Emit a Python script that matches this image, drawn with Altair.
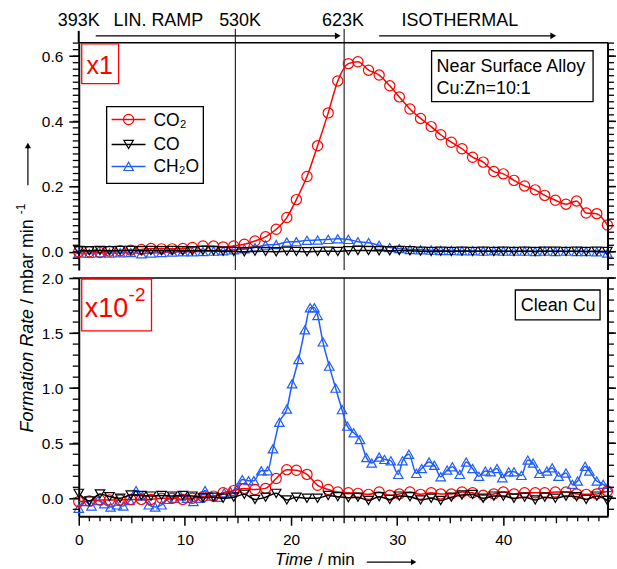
import altair as alt
import pandas as pd

FONT = "Liberation Sans"
RED = "#ff0000"
BLUE = "#1f5cff"
BLACK = "#000000"

# ---------------- data ----------------
t_main = [0.0, 1.0, 2.0, 2.9, 3.9, 4.9, 5.9, 6.8, 7.8, 8.8, 9.8, 10.7, 11.7, 12.7, 13.6,
          14.6, 15.6, 16.6, 17.6, 18.6, 19.6, 20.5, 21.5, 22.5, 23.5, 24.4, 25.4, 26.3,
          27.3, 28.3, 29.3, 30.2, 31.2, 32.2, 33.2, 34.1, 35.1, 36.1, 37.1, 38.1, 39.1,
          40.0, 41.0, 42.0, 43.0, 43.9, 44.9, 45.9, 46.9, 47.8, 48.8, 49.8]

co2_top = [0.000, 0.000, -0.002, 0.002, 0.003, 0.005, 0.007, 0.010, 0.009, 0.009, 0.010,
           0.013, 0.018, 0.018, 0.015, 0.018, 0.023, 0.033, 0.046, 0.069, 0.105, 0.160,
           0.231, 0.325, 0.426, 0.524, 0.577, 0.583, 0.557, 0.542, 0.509, 0.475, 0.438,
           0.409, 0.384, 0.359, 0.336, 0.316, 0.290, 0.275, 0.246, 0.239, 0.219, 0.202,
           0.190, 0.173, 0.158, 0.146, 0.156, 0.119, 0.117, 0.082]
co_top = [0.004, 0.003, 0.004, 0.003, 0.004, 0.004, 0.003, 0.004, 0.003, 0.004, 0.003,
          0.003, 0.004, 0.003, 0.002, 0.001, 0.000, 0.002, 0.001, 0.000, 0.002, 0.001,
          0.000, 0.001, 0.002, 0.001, 0.003, 0.004, 0.004, 0.003, 0.003, 0.004, 0.003,
          0.002, 0.001, 0.002, 0.001, 0.002, 0.001, 0.002, 0.001, 0.002, 0.001, 0.002,
          0.001, 0.002, 0.002, 0.001, 0.002, 0.001, 0.002, 0.001]
ch2o_top = [-0.004, -0.005, -0.003, -0.004, -0.003, -0.002, -0.006, -0.004, -0.002, -0.001,
            0.000, 0.000, 0.001, 0.002, 0.003, 0.006, 0.009, 0.013, 0.021, 0.022, 0.030,
            0.031, 0.035, 0.036, 0.038, 0.040, 0.038, 0.031, 0.028, 0.020, 0.013, 0.010,
            0.007, 0.006, 0.005, 0.004, 0.004, 0.003, 0.003, 0.002, 0.003, 0.002, 0.002,
            0.002, 0.001, 0.002, 0.001, 0.002, 0.001, 0.001, 0.000, -0.004]

co2_bot = [-0.03, -0.024, -0.015, -0.015, -0.015, -0.01, -0.01, -0.01, 0.0, 0.0, -0.01, 0.0,
           0.015, 0.02, 0.05, 0.07, 0.09, 0.08, 0.09, 0.18, 0.26, 0.255, 0.217, 0.118, 0.08,
           0.057, 0.05, 0.045, 0.036, 0.057, 0.027, 0.04, 0.057, 0.036, 0.05, 0.04, 0.04,
           0.057, 0.05, 0.027, 0.04, 0.057, 0.04, 0.05, 0.05, 0.05, 0.057, 0.057, 0.04,
           0.036, 0.04, 0.065]
co_bot = [0.045, -0.024, 0.04, 0.015, 0.0, 0.03, 0.025, 0.02, 0.025, 0.02, 0.025, 0.02, 0.006,
          0.01, 0.0, 0.01, 0.036, -0.01, 0.01, 0.045, -0.015, 0.01, 0.0, 0.0, 0.025, 0.015,
          0.005, 0.01, -0.02, 0.015, -0.01, 0.02, 0.015, -0.015, 0.0, -0.02, 0.01, 0.03,
          0.035, 0.0, 0.02, 0.02, 0.0, 0.01, -0.015, 0.01, 0.0, 0.02, 0.015, -0.01, 0.02,
          -0.02]

t_ch2o_bot = [0.0, 0.6, 1.2, 1.8, 2.4, 3.0, 3.6, 4.2, 4.8, 5.4, 6.0, 6.6, 7.2, 7.8, 8.4, 9.0,
              9.6, 10.2, 10.8, 11.4, 11.9, 12.5, 13.1, 13.7, 14.3, 14.9, 15.4, 16.0, 16.5,
              17.2, 17.8, 18.3, 18.9, 19.6, 20.1, 20.7, 21.3, 21.8, 22.2, 22.5, 23.0, 23.6,
              24.2, 24.8, 25.3, 25.9, 26.5, 27.1, 27.6, 28.3, 28.8, 29.4, 30.1, 30.5, 31.1,
              31.8, 32.3, 33.0, 33.5, 34.1, 34.7, 35.2, 35.9, 36.5, 37.1, 37.7, 38.3, 38.8,
              39.4, 39.9, 40.5, 41.0, 41.7, 42.3, 42.8, 43.4, 44.1, 44.6, 45.2, 45.9, 46.5,
              47.0, 47.7, 48.1, 48.8, 49.4, 49.8]
ch2o_bot = [-0.09, -0.03, -0.07, -0.02, -0.05, -0.08, -0.06, -0.07, -0.02, 0.07, 0.02, -0.06,
            -0.08, -0.06, -0.01, 0.0, 0.02, 0.0, -0.03, 0.0, 0.07, 0.02, 0.01, 0.05, 0.06,
            0.09, 0.17, 0.16, 0.16, 0.25, 0.25, 0.45, 0.69, 0.81, 1.04, 1.26, 1.53, 1.73,
            1.73, 1.66, 1.42, 1.20, 1.00, 0.805, 0.655, 0.595, 0.534, 0.37, 0.32, 0.375,
            0.353, 0.34, 0.217, 0.34, 0.40, 0.226, 0.27, 0.33, 0.30, 0.196, 0.256, 0.287,
            0.217, 0.33, 0.27, 0.20, 0.247, 0.24, 0.27, 0.187, 0.24, 0.24, 0.208, 0.347,
            0.32, 0.226, 0.247, 0.277, 0.20, 0.23, 0.127, 0.157, 0.29, 0.247, 0.157, 0.127,
            0.097]

ramp_lines = [14.75, 25.0]
ann_text = ["393K", "LIN. RAMP", "530K", "623K", "ISOTHERMAL"]
ann_t = [0.0, 7.5, 15.2, 24.9, 35.9]
arrow_start = [1.6, 28.3]
arrow_end = [24.4, 44.7]

TOP_TICKS = [0.0, 0.2, 0.4, 0.6]
BOT_TICKS = [0.0, 0.5, 1.0, 1.5, 2.0]
X_TICKS = [0, 10, 20, 30, 40]
top_minor = [round(-0.04 + 0.02 * i, 2) for i in range(35)]
bot_minor = [round(-0.1 + 0.1 * i, 1) for i in range(22)]
x_minor = [i for i in range(1, 50) if i % 5 != 0]
x_mid = [5, 15, 25, 35, 45]

# ---------------- layout constants ----------------
W, H1, H2 = 531, 228, 239
CIRC, TRI = 105, 90
xs = alt.Scale(domain=[0, 49.86], nice=False, zero=False)
y1s = alt.Scale(domain=[-0.056, 0.641], nice=False, zero=False)
y2s = alt.Scale(domain=[-0.163, 2.0], nice=False, zero=False)
one = pd.DataFrame({"k": [0]})


def y_axis(values):
    return alt.Axis(orient="left", values=values, format=".1f", tickSize=10, tickWidth=1.5,
                    tickColor=BLACK, domainColor=BLACK, domainWidth=2, labelFont=FONT,
                    labelFontSize=15.5, labelColor=BLACK, labelPadding=6, grid=False,
                    title=None, labelFlush=False, labelOverlap=False)


Y1_AXIS = y_axis(TOP_TICKS)
Y2_AXIS = y_axis(BOT_TICKS)
X_AXIS = alt.Axis(orient="bottom", values=X_TICKS, format="d", tickSize=9, tickWidth=1.5,
                  tickColor=BLACK, domainColor=BLACK, domainWidth=2, labelFont=FONT,
                  labelFontSize=15.5, labelColor=BLACK, labelPadding=7, grid=False,
                  title=None, labelFlush=False, labelOverlap=False)


def px_rule(x, y, x2=None, y2=None, width=1.0, color=BLACK):
    enc = dict(x=alt.value(x), y=alt.value(y))
    if x2 is not None:
        enc["x2"] = alt.value(x2)
    if y2 is not None:
        enc["y2"] = alt.value(y2)
    return alt.Chart(one).mark_rule(color=color, strokeWidth=width).encode(**enc)


def px_text(txt, x, y, size, color=BLACK, align="left", baseline="alphabetic",
            style="normal", angle=0):
    return alt.Chart(one).mark_text(
        text=txt, font=FONT, fontSize=size, color=color, align=align,
        baseline=baseline, fontStyle=style, angle=angle
    ).encode(x=alt.value(x), y=alt.value(y))


def px_box(x, x2, y, y2, color=BLACK, width=1.2):
    return alt.Chart(one).mark_rect(
        fill="white", fillOpacity=0, stroke=color, strokeWidth=width
    ).encode(x=alt.value(x), x2=alt.value(x2), y=alt.value(y), y2=alt.value(y2))


def px_point(x, y, shape, color, size, filled=False, width=1.2):
    return alt.Chart(one).mark_point(
        shape=shape, color=color, size=size, filled=filled, opacity=1,
        strokeWidth=width
    ).encode(x=alt.value(x), y=alt.value(y))


def series(t, v, ys, yaxis, xaxis, color, shape, size):
    df = pd.DataFrame({"t": t, "v": v})
    enc = dict(x=alt.X("t:Q", scale=xs, axis=xaxis), y=alt.Y("v:Q", scale=ys, axis=yaxis))
    ln = alt.Chart(df).mark_line(color=color, strokeWidth=1.5,
                                 interpolate="monotone").encode(**enc)
    pt = alt.Chart(df).mark_point(shape=shape, color=color, size=size, filled=False,
                                  opacity=1, strokeWidth=1.2).encode(**enc)
    return [ln, pt]


def y_ticks(ys, yaxis, major, minor, H):
    dmin = pd.DataFrame({"v": minor})
    dmaj = pd.DataFrame({"v": major})
    left_minor = alt.Chart(dmin).mark_rule(color=BLACK, strokeWidth=1.3).encode(
        y=alt.Y("v:Q", scale=ys, axis=yaxis), x=alt.value(-6), x2=alt.value(0))
    right_minor = alt.Chart(dmin).mark_rule(color=BLACK, strokeWidth=1.3).encode(
        y=alt.Y("v:Q", scale=ys, axis=yaxis), x=alt.value(W), x2=alt.value(W + 6))
    right_major = alt.Chart(dmaj).mark_rule(color=BLACK, strokeWidth=1.5).encode(
        y=alt.Y("v:Q", scale=ys, axis=yaxis), x=alt.value(W), x2=alt.value(W + 8))
    right_line = px_rule(W, 0, y2=H, width=2)
    return [left_minor, right_minor, right_major, right_line]


def vlines(H, ytop, xaxis):
    return alt.Chart(pd.DataFrame({"t": ramp_lines})).mark_rule(
        color=BLACK, strokeWidth=1).encode(
        x=alt.X("t:Q", scale=xs, axis=xaxis), y=alt.value(ytop), y2=alt.value(H))


# ---------------- top panel ----------------
top_layers = []
top_layers.append(alt.Chart(one).mark_rect(fill="white").encode(
    x=alt.value(-79), x2=alt.value(-78), y=alt.value(-42), y2=alt.value(-41)))
top_layers.append(vlines(H1, -14, None))
top_layers += series(t_main, ch2o_top, y1s, Y1_AXIS, None, BLUE, "triangle-up", TRI)
top_layers += series(t_main, co2_top, y1s, Y1_AXIS, None, RED, "circle", CIRC)
top_layers += series(t_main, co_top, y1s, Y1_AXIS, None, BLACK, "triangle-down", TRI)
top_layers += y_ticks(y1s, Y1_AXIS, TOP_TICKS, top_minor, H1)
top_layers.append(px_rule(0, 0, x2=W, width=1.5))
top_layers.append(px_rule(0, -12, y2=0, width=2))

# annotations above the plot
ann_df = pd.DataFrame({"t": ann_t, "label": ann_text})
top_layers.append(alt.Chart(ann_df).mark_text(
    font=FONT, fontSize=18, color=BLACK, align="center", baseline="middle").encode(
    x=alt.X("t:Q", scale=xs, axis=None), y=alt.value(-22), text="label:N"))
arr_df = pd.DataFrame({"a": arrow_start, "b": arrow_end})
top_layers.append(alt.Chart(arr_df).mark_rule(color=BLACK, strokeWidth=1.2).encode(
    x=alt.X("a:Q", scale=xs, axis=None), x2="b:Q", y=alt.value(-7)))
top_layers.append(alt.Chart(arr_df).mark_point(
    shape="triangle-right", filled=True, color=BLACK, size=45, opacity=1).encode(
    x=alt.X("b:Q", scale=xs, axis=None), y=alt.value(-7)))

# x1 box
top_layers.append(px_box(3, 40, 1, 41, color=RED, width=1.3))
top_layers.append(px_text("x1", 21, 31, 25, color=RED, align="center"))

# sample box
top_layers.append(px_box(354, 516, 8, 59, width=1.3))
top_layers.append(px_text("Near Surface Alloy", 359, 29.5, 18))
top_layers.append(px_text("Cu:Zn=10:1", 359, 51, 18))

# legend
top_layers.append(px_box(28, 125, 64, 141, width=1.3))
legend_rows = [("CO\u2082", RED, "circle", CIRC, 77),
               ("CO", BLACK, "triangle-down", TRI, 102),
               ("CH\u2082O", BLUE, "triangle-up", TRI, 124)]
for name, col, shp, sz, yy in legend_rows:
    top_layers.append(px_rule(33, yy, x2=67, width=1.5, color=col))
    top_layers.append(px_point(50, yy, shp, col, sz))
    top_layers.append(px_text(name, 75, yy + 6, 17.5))

# y axis title (spans both panels)
top_layers.append(px_text("Formation Rate", -51, 391, 18, style="italic",
                          baseline="middle", angle=270))
top_layers.append(px_text("/ mbar min", -51, 262, 18, baseline="middle", angle=270))
top_layers.append(px_text("-1", -58, 172, 12, baseline="middle", angle=270))
top_layers.append(px_rule(-51, 143, y2=103, width=1.2))
top_layers.append(px_point(-51, 103, "triangle-up", BLACK, 40, filled=True))

top = alt.layer(*top_layers).properties(width=W, height=H1)

# ---------------- bottom panel ----------------
bot_layers = []
bot_layers.append(vlines(H2, 0, X_AXIS))
bot_layers += series(t_ch2o_bot, ch2o_bot, y2s, Y2_AXIS, X_AXIS, BLUE, "triangle-up", TRI)
bot_layers += series(t_main, co2_bot, y2s, Y2_AXIS, X_AXIS, RED, "circle", CIRC)
bot_layers += series(t_main, co_bot, y2s, Y2_AXIS, X_AXIS, BLACK, "triangle-down", TRI)
bot_layers += y_ticks(y2s, Y2_AXIS, BOT_TICKS, bot_minor, H2)
bot_layers.append(px_rule(0, 0, x2=W, width=1.5))

bot_layers.append(alt.Chart(pd.DataFrame({"t": x_minor})).mark_rule(
    color=BLACK, strokeWidth=1.3).encode(
    x=alt.X("t:Q", scale=xs, axis=X_AXIS), y=alt.value(H2), y2=alt.value(H2 + 5)))
bot_layers.append(alt.Chart(pd.DataFrame({"t": x_mid})).mark_rule(
    color=BLACK, strokeWidth=1.3).encode(
    x=alt.X("t:Q", scale=xs, axis=X_AXIS), y=alt.value(H2), y2=alt.value(H2 + 7)))

# x10^-2 box
bot_layers.append(px_box(3, 73, 1, 53, color=RED, width=1.3))
bot_layers.append(px_text("x10", 6, 39, 27, color=RED))
bot_layers.append(px_text("-2", 50, 23, 19, color=RED))

# Clean Cu box
bot_layers.append(px_box(438, 523, 12, 42, width=1.3))
bot_layers.append(px_text("Clean Cu", 481, 33, 18, align="center"))

# x axis title
bot_layers.append(px_text("Time", 197, 283, 17, style="italic", baseline="middle"))
bot_layers.append(px_text("/ min", 240, 283, 17, baseline="middle"))
bot_layers.append(px_rule(289, 285, x2=336, width=1.2))
bot_layers.append(px_point(336, 285, "triangle-right", BLACK, 40, filled=True))

bottom = alt.layer(*bot_layers).properties(width=W, height=H2)

chart = alt.vconcat(top, bottom, spacing=8, bounds="flush").configure_view(
    stroke=None).properties(padding=0, background="white")

chart.save("out.html", embed_options={"renderer": "svg", "actions": False})
